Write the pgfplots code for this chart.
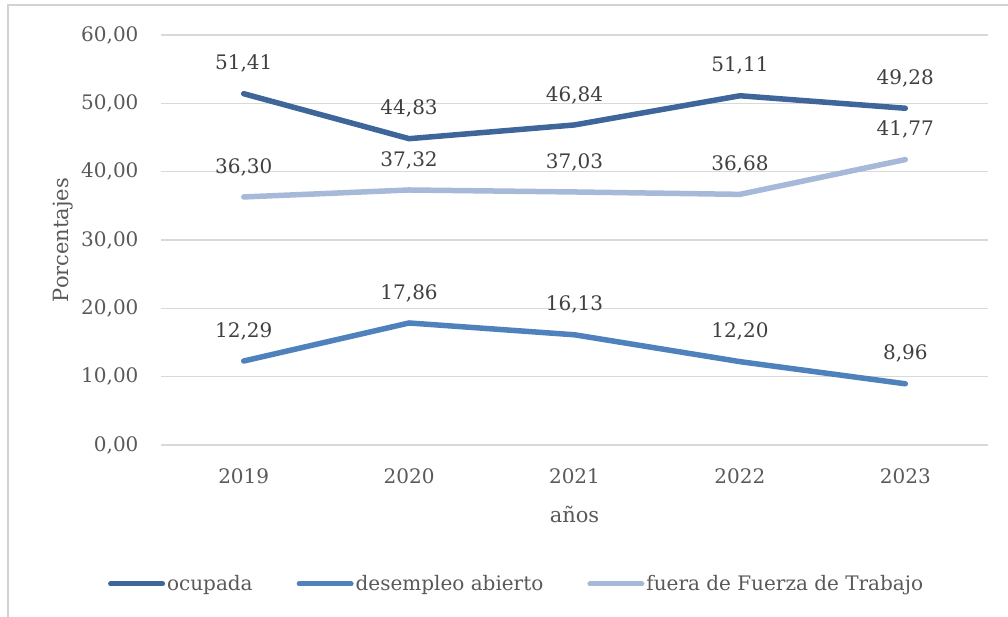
\documentclass[border=0pt]{standalone}
\usepackage{fontspec}
\setmainfont{DejaVu Serif}
\usepackage{pgfplots}
\pgfplotsset{compat=1.18}
\definecolor{ocup}{RGB}{62,102,154}
\definecolor{desem}{RGB}{79,129,189}
\definecolor{fuera}{RGB}{167,185,217}
\definecolor{gridc}{RGB}{217,217,217}
\definecolor{framec}{RGB}{210,210,210}
\definecolor{txt}{RGB}{89,89,89}
\definecolor{lbl}{RGB}{64,64,64}
\begin{document}
\begin{tikzpicture}
\useasboundingbox (0pt,0pt) rectangle (1008pt,-617pt);
\draw[framec, line width=1.2pt] (8pt,-617pt) -- (8pt,-5pt) -- (1010pt,-5pt);
\begin{axis}[
  at={(243.7pt,-445pt)}, anchor=origin,
  scale only axis, width=827pt, height=410pt,
  xmin=-0.5, xmax=4.5, ymin=0, ymax=60,
  xtick={0,1,2,3,4}, xticklabels={2019,2020,2021,2022,2023},
  ytick={0,10,...,60},
  axis line style={draw=none},
  ymajorgrids, grid style={gridc, line width=1.3pt},
  axis x line*=bottom,
  x axis line style={gridc, line width=1.3pt},
  major tick length=0pt,
  clip=false,
  /pgf/number format/.cd, fixed, fixed zerofill, precision=2, use comma, assume math mode=true,
  /pgfplots/.cd,
  yticklabel style={font=\fontsize{20}{24}\selectfont, text=txt, xshift=-19pt},
  xticklabel style={font=\fontsize{20}{24}\selectfont, text=txt, yshift=-20pt},
  ylabel={Porcentajes}, ylabel style={font=\fontsize{21}{25}\selectfont, text=txt, at={(rel axis cs:0,0.5)}, anchor=center, yshift=98pt},
  xlabel={años}, xlabel style={font=\fontsize{21}{25}\selectfont, text=txt, at={(rel axis cs:0.5,0)}, anchor=center, yshift=-69pt},
  nodes near coords,
  every node near coord/.append style={font=\fontsize{20}{24}\selectfont, text=lbl, anchor=south, yshift=15pt},
  legend columns=3,
  legend style={draw=none, fill=none, at={(0.430,-0.339)}, anchor=center, font=\fontsize{20}{24}\selectfont, text=txt,
    /tikz/every even column/.append style={column sep=42pt}, inner sep=0pt, cells={anchor=west}},
  legend image code/.code={\draw[#1, line width=5pt, line cap=round] (0pt,0pt) -- (52pt,0pt);},
]
\addplot[ocup, line width=5.5pt, line cap=round, line join=round] coordinates {(0,51.41) (1,44.83) (2,46.84) (3,51.11) (4,49.28)};
\addlegendentry{ocupada}
\addplot[desem, line width=5.5pt, line cap=round, line join=round] coordinates {(0,12.29) (1,17.86) (2,16.13) (3,12.20) (4,8.96)};
\addlegendentry{desempleo abierto}
\addplot[fuera, line width=5.5pt, line cap=round, line join=round] coordinates {(0,36.30) (1,37.32) (2,37.03) (3,36.68) (4,41.77)};
\addlegendentry{fuera de Fuerza de Trabajo}
\end{axis}
\end{tikzpicture}
\end{document}
